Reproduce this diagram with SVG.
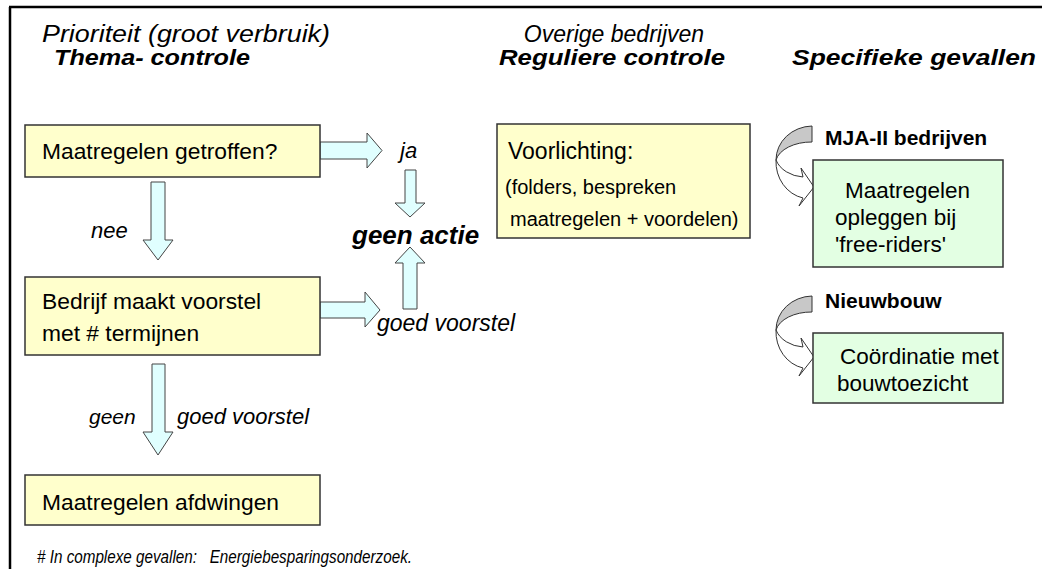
<svg xmlns="http://www.w3.org/2000/svg" width="1042" height="569" viewBox="0 0 1042 569">
<style>
.t{font-family:"Liberation Sans",Arial,sans-serif;fill:#000}
.i{font-style:italic}
.b{font-weight:bold}
.yb{fill:#FFFFCC;stroke:#333;stroke-width:1.5}
.gb{fill:#E3FFE3;stroke:#333;stroke-width:1.5}
.ar{fill:#E0FFFF;stroke:#444;stroke-width:1}
.cg{fill:#C8C8C8;stroke:#333;stroke-width:1}
.cw{fill:#FFFFFF;stroke:#333;stroke-width:1}
</style>
<rect width="1042" height="569" fill="#fff"/>
<path d="M9,7 H1042 M10,7 V569" stroke="#000" stroke-width="2.5" fill="none"/>
<g id="headers">
<text class="t i" x="42" y="42" font-size="23" textLength="288" lengthAdjust="spacingAndGlyphs">Prioriteit (groot verbruik)</text>
<text class="t i b" x="54" y="65" font-size="22" textLength="196" lengthAdjust="spacingAndGlyphs">Thema- controle</text>
<text class="t i" x="614" y="42" font-size="23" text-anchor="middle">Overige bedrijven</text>
<text class="t i b" x="499" y="65" font-size="22" textLength="226" lengthAdjust="spacingAndGlyphs">Reguliere controle</text>
<text class="t i b" x="792" y="65" font-size="22" textLength="244" lengthAdjust="spacingAndGlyphs">Specifieke gevallen</text>
</g>
<g id="connectors">
<polygon class="ar" points="320,142 367,142 367,133 382,150.5 367,168 367,159 320,159"/>
<polygon class="ar" points="320,302 365,302 365,292 380,310 365,327 365,318 320,318"/>
<polygon class="ar" points="151,182 165,182 165,240 173,240 158,260 143,240 151,240"/>
<polygon class="ar" points="152,364 165,364 165,432 173,432 158,455 143,432 152,432"/>
<polygon class="ar" points="405,170 416,170 416,203 425,203 410,217 395,203 405,203"/>
<polygon class="ar" points="403,309 417,309 417,263 425,263 410,247 395,263 403,263"/>
<g id="curved1">
<path class="cg" d="M812,126 A37,34 0 0 0 776,160 A36,22 0 0 1 812,142 Z"/>
<path class="cw" d="M776,160 A34,37 0 0 0 803,198 L799,206 L814,187 L801,168 L803,177 A31,25 0 0 1 776,160 Z"/>
</g>
<g id="curved2" transform="translate(0,170)">
<path class="cg" d="M812,126 A37,34 0 0 0 776,160 A36,22 0 0 1 812,142 Z"/>
<path class="cw" d="M776,160 A34,37 0 0 0 803,198 L799,206 L814,187 L801,168 L803,177 A31,25 0 0 1 776,160 Z"/>
</g>
</g>
<g id="node-getroffen">
<rect class="yb" x="25" y="125" width="295" height="52"/>
<text class="t" x="42" y="159" font-size="22.8">Maatregelen getroffen?</text>
</g>
<g id="node-voorstel">
<rect class="yb" x="25" y="277" width="295" height="78"/>
<text class="t" x="42" y="309" font-size="22.8">Bedrijf maakt voorstel</text>
<text class="t" x="42" y="341" font-size="22.8">met # termijnen</text>
</g>
<g id="node-afdwingen">
<rect class="yb" x="25" y="475" width="295" height="50"/>
<text class="t" x="42" y="510" font-size="22.8">Maatregelen afdwingen</text>
</g>
<g id="node-voorlichting">
<rect class="yb" x="497" y="124" width="253" height="114"/>
<text class="t" x="508" y="159" font-size="23">Voorlichting:</text>
<text class="t" x="505" y="194" font-size="20">(folders, bespreken</text>
<text class="t" x="510" y="226" font-size="20">maatregelen + voordelen)</text>
</g>
<g id="node-mja">
<text class="t b" x="825" y="145" font-size="21">MJA-II bedrijven</text>
<rect class="gb" x="813" y="160" width="190" height="107"/>
<text class="t" x="845" y="198" font-size="22.5">Maatregelen</text>
<text class="t" x="835" y="225" font-size="22.5">opleggen bij</text>
<text class="t" x="835" y="252" font-size="22.5">'free-riders'</text>
</g>
<g id="node-nieuwbouw">
<text class="t b" x="825" y="308" font-size="21">Nieuwbouw</text>
<rect class="gb" x="813" y="333" width="190" height="70"/>
<text class="t" x="840" y="364" font-size="22.5">Coördinatie met</text>
<text class="t" x="837" y="391" font-size="22.5">bouwtoezicht</text>
</g>
<g id="labels">
<text class="t i" x="91" y="238" font-size="22">nee</text>
<text class="t i" x="400" y="158" font-size="22">ja</text>
<text class="t i b" x="352" y="244" font-size="26">geen actie</text>
<text class="t i" x="377" y="331" font-size="23">goed voorstel</text>
<text class="t i" x="89" y="424" font-size="21">geen</text>
<text class="t i" x="177" y="424" font-size="22">goed voorstel</text>
<text class="t i" x="37" y="563" font-size="18" xml:space="preserve" textLength="375" lengthAdjust="spacingAndGlyphs"># In complexe gevallen:   Energiebesparingsonderzoek.</text>
</g>
</svg>
